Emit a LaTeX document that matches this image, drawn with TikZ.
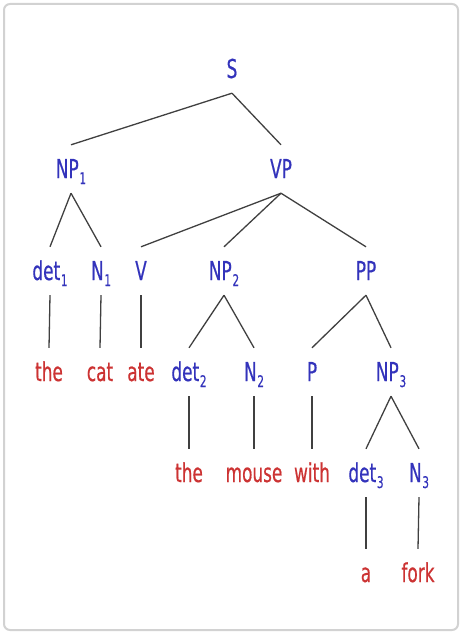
\documentclass[tikz,border=0pt]{standalone}
\usepackage{fontspec}
\newfontfamily\treefont[FakeStretch=0.65,FakeBold=0.5]{DejaVu Sans}
\definecolor{catblue}{RGB}{51,51,187}
\definecolor{wordred}{RGB}{204,51,51}
\definecolor{edgegray}{RGB}{64,64,64}
\newcommand\subidx[1]{\kern0.8pt\raisebox{-6pt}{\fontsize{16}{16}\selectfont #1}}
\tikzset{
  lbl/.style={anchor=base, inner xsep=0pt, inner ysep=10pt, text height=23pt, text depth=5pt,
    font=\treefont\fontsize{26}{30}\selectfont},
  cat/.style={lbl, text=catblue},
  word/.style={lbl, text=wordred},
  edge/.style={draw=edgegray, line width=1.3pt},
  frame/.style={draw=gray!35, line width=2pt, rounded corners=6pt}
}
\begin{document}
\begin{tikzpicture}[x=1pt,y=-1pt]
\useasboundingbox (0,0) rectangle (461,634);
\draw[frame] (4,4) rectangle (458,630);
% level 0
\node[cat] (S) at (232,78) {S};
% level 1
\node[cat] (NP1) at (71,178) {NP\subidx{1}};
\node[cat] (VP) at (281,178) {VP};
% level 2
\node[cat] (det1) at (50,280) {det\subidx{1}};
\node[cat] (N1) at (101,280) {N\subidx{1}};
\node[cat] (V) at (141,280) {V};
\node[cat] (NP2) at (224,280) {NP\subidx{2}};
\node[cat] (PP) at (366,280) {PP};
% level 3
\node[word] (the1) at (49,381) {the};
\node[word] (cat) at (100,381) {cat};
\node[word] (ate) at (141,381) {ate};
\node[cat] (det2) at (189,381) {det\subidx{2}};
\node[cat] (N2) at (254,381) {N\subidx{2}};
\node[cat] (P) at (312,381) {P};
\node[cat] (NP3) at (391,381) {NP\subidx{3}};
% level 4
\node[word] (the2) at (189,482) {the};
\node[word] (mouse) at (254,482) {mouse};
\node[word] (with) at (312,482) {with};
\node[cat] (det3) at (366,482) {det\subidx{3}};
\node[cat] (N3) at (419,482) {N\subidx{3}};
% level 5
\node[word] (a) at (366,582) {a};
\node[word] (fork) at (418,582) {fork};
% edges
\draw[edge] (S.south) -- (NP1.north);
\draw[edge] (S.south) -- (VP.north);
\draw[edge] (NP1.south) -- (det1.north);
\draw[edge] (NP1.south) -- (N1.north);
\draw[edge] (VP.south) -- (V.north);
\draw[edge] (VP.south) -- (NP2.north);
\draw[edge] (VP.south) -- (PP.north);
\draw[edge] (det1.south) -- (the1.north);
\draw[edge] (N1.south) -- (cat.north);
\draw[edge] (V.south) -- (ate.north);
\draw[edge] (NP2.south) -- (det2.north);
\draw[edge] (NP2.south) -- (N2.north);
\draw[edge] (PP.south) -- (P.north);
\draw[edge] (PP.south) -- (NP3.north);
\draw[edge] (det2.south) -- (the2.north);
\draw[edge] (N2.south) -- (mouse.north);
\draw[edge] (P.south) -- (with.north);
\draw[edge] (NP3.south) -- (det3.north);
\draw[edge] (NP3.south) -- (N3.north);
\draw[edge] (det3.south) -- (a.north);
\draw[edge] (N3.south) -- (fork.north);
\end{tikzpicture}
\end{document}
